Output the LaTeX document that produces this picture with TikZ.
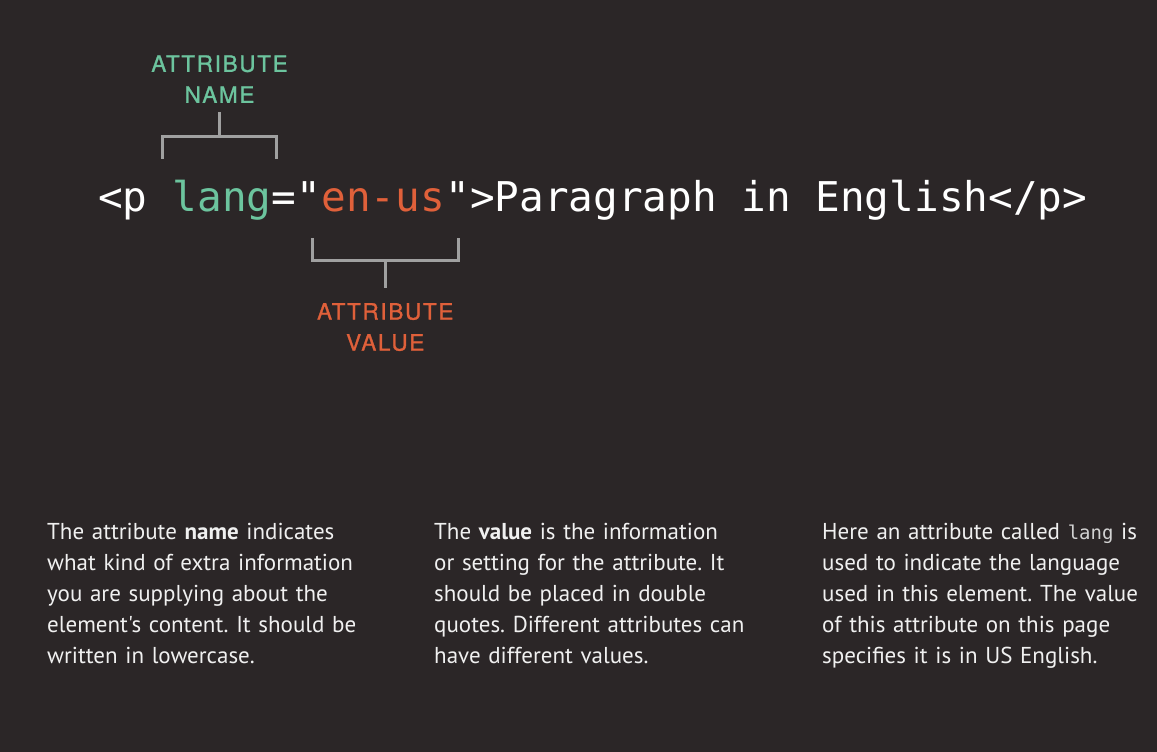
\documentclass[tikz,border=0pt]{standalone}
\usepackage{fontspec}
\setmainfont{PT Sans}[Ligatures=TeXOff]
\setmonofont{DejaVu Sans Mono}
\newfontfamily\tagfont{TeX Gyre Heros}[LetterSpace=7.5,FakeBold=1.2]
\usepackage{xcolor}
\usetikzlibrary{positioning,calc}
\definecolor{bgdark}{RGB}{43,38,39}
\definecolor{nameteal}{RGB}{108,196,158}
\definecolor{valueorange}{RGB}{224,96,58}
\definecolor{bracketgray}{RGB}{160,160,160}
\definecolor{notewhite}{RGB}{240,240,240}
\tikzset{
  codefrag/.style={anchor=base west,inner sep=0pt,text=white,font=\ttfamily\fontsize{41}{41}\selectfont},
  tagtext/.style={inner sep=0pt,align=center,font=\tagfont\fontsize{22.5}{31}\selectfont},
  bracketline/.style={draw=bracketgray,line width=3pt,line join=miter},
  notetext/.style={anchor=north west,inner sep=0pt,align=left,text width=360pt,text=notewhite,font=\fontsize{23}{31}\selectfont}
}

\begin{document}
\frenchspacing
\begin{tikzpicture}[x=1pt,y=1pt]
  \fill[bgdark] (0,0) rectangle (1157,752);
  \useasboundingbox (0,0) rectangle (1157,752);
  % code line
  \node[codefrag] (opentag) at (98,540) {<p\hphantom{x}};
  \node[codefrag,text=nameteal] (attrname) at (opentag.base east) {lang};
  \node[codefrag] (eqsign) at (attrname.base east) {="};
  \node[codefrag,text=valueorange] (attrvalue) at (eqsign.base east) {en-us};
  \node[codefrag] (closetag) at (attrvalue.base east) {">Paragraph in English</p>};
  % bracket above the name
  \coordinate (nameL) at ($(attrname.base west)+(-10,53)$);
  \coordinate (nameR) at ($(attrname.base east)+(5,53)$);
  \draw[bracketline] (nameL) -- ++(0,22) coordinate (nameLtop) -| (nameR);
  \coordinate (nametip) at ($(nameL)!0.5!(nameR)+(0,47)$);
  \draw[bracketline] (nametip) -- (nametip |- nameLtop);
  \node[tagtext,text=nameteal,above=9pt of nametip] (namelabel) {ATTRIBUTE\\NAME};
  % bracket below the value
  \coordinate (valueL) at ($(attrvalue.base west)+(-9,-26)$);
  \coordinate (valueR) at ($(attrvalue.base east)+(13,-26)$);
  \draw[bracketline] (valueL) -- ++(0,-23) coordinate (valueLbot) -| (valueR);
  \coordinate (valuetip) at ($(valueL)!0.5!(valueR)+(0,-50)$);
  \draw[bracketline] (valuetip) -- (valuetip |- valueLbot);
  \node[tagtext,text=valueorange,below=15pt of valuetip] (valuelabel) {ATTRIBUTE\\VALUE};
  % notes
  \node[notetext] (namenote) at (47,229) {The attribute \textbf{name} indicates\\
    what kind of extra information\\
    you are supplying about the\\
    element's content. It should be\\
    written in lowercase.};
  \node[notetext] (valuenote) at (434,229) {The \textbf{value} is the information\\
    or setting for the attribute. It\\
    should be placed in double\\
    quotes. Different attributes can\\
    have different values.};
  \node[notetext] (langnote) at (822,229) {Here an attribute called {\ttfamily\fontsize{19}{31}\selectfont\color{notewhite!85!bgdark}lang} is\\
    used to indicate the language\\
    used in this element. The value\\
    of this attribute on this page\\
    specifies it is in US English.};
\end{tikzpicture}
\end{document}
